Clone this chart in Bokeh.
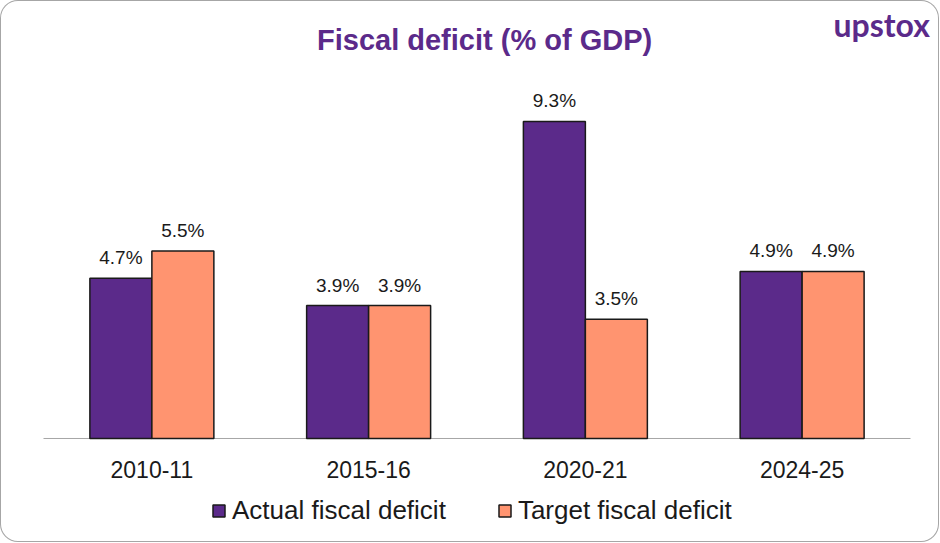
from bokeh.plotting import figure
from bokeh.models import (ColumnDataSource, FactorRange, Range1d, LabelSet, Label,
                          Legend, LegendItem)
from bokeh.transform import dodge
from bokeh.core.properties import value
from bokeh.embed import file_html
from bokeh.resources import INLINE

# ---- data ----
years = ["2010-11", "2015-16", "2020-21", "2024-25"]
actual = [4.7, 3.9, 9.3, 4.9]
target = [5.5, 3.9, 3.5, 4.9]
series_names = ["Actual fiscal deficit", "Target fiscal deficit"]
title_text = "Fiscal deficit (% of GDP)"
brand_text = "upstox"

PURPLE = "#5B2A8A"
ORANGE = "#FF9470"
TEXT = "#1a1a1a"

src = ColumnDataSource(dict(
    year=years,
    actual=actual,
    target=target,
    zero=[0] * len(years),
    actual_lbl=[f"{v:.1f}%" for v in actual],
    target_lbl=[f"{v:.1f}%" for v in target],
))

p = figure(width=939, height=542,
           x_range=FactorRange(*years, range_padding=0.1338,
                               range_padding_units="absolute"),
           y_range=Range1d(-3.05, 12.845),
           output_backend="svg", toolbar_location=None,
           min_border_left=14, min_border_right=0,
           min_border_top=0, min_border_bottom=0)
p.border_fill_color = None
p.background_fill_color = None
p.outline_line_color = None
p.xgrid.grid_line_color = None
p.ygrid.grid_line_color = None
p.xaxis.visible = False
p.yaxis.visible = False
p.styles = {"box-shadow": "inset 0 0 0 1px #a6a6a6", "border-radius": "18px"}

# baseline across the category span
p.segment(x0=[0], y0=[0], x1=[len(years)], y1=[0],
          line_color="#A6A6A6", line_width=1)

BW = 0.286
off = BW / 2
r1 = p.vbar(x=dodge("year", -off, range=p.x_range), top="actual", width=BW,
            source=src, fill_color=PURPLE, line_color=TEXT, line_width=1.5)
r2 = p.vbar(x=dodge("year", off, range=p.x_range), top="target", width=BW,
            source=src, fill_color=ORANGE, line_color=TEXT, line_width=1.5)

for xoff, col in ((-off, "actual"), (off, "target")):
    p.add_layout(LabelSet(x=dodge("year", xoff, range=p.x_range), y=col,
                          text=col + "_lbl", source=src,
                          text_align="center", text_baseline="alphabetic",
                          y_offset=14, text_font=value("Liberation Sans"),
                          text_font_size="19px", text_color=TEXT))

# category labels
p.add_layout(LabelSet(x="year", y="zero", text="year", source=src,
                      text_align="center", text_baseline="middle",
                      y_offset=-31, text_font=value("Liberation Sans"),
                      text_font_size="23px", text_color=TEXT))

p.add_layout(Label(x=2.035, y=11.70, text=title_text, text_align="center",
                   text_baseline="middle", text_font="Liberation Sans",
                   text_font_style="bold", text_font_size="29px",
                   text_color=PURPLE))
p.add_layout(Label(x=3.645, y=12.14, text=brand_text, text_align="left",
                   text_baseline="alphabetic", text_font="Lato",
                   text_font_style="bold", text_font_size="32px",
                   text_color=PURPLE))

legend = Legend(items=[LegendItem(label=series_names[0], renderers=[r1]),
                       LegendItem(label=series_names[1], renderers=[r2])],
                orientation="horizontal", location=(197, 16),
                border_line_color=None, background_fill_alpha=0,
                label_text_font="Liberation Sans", label_text_font_size="26px",
                label_text_color=TEXT, glyph_width=15, glyph_height=15,
                spacing=51, label_standoff=6, padding=4, margin=0)
p.add_layout(legend, "center")

open("out.html", "w").write(file_html(p, INLINE))
